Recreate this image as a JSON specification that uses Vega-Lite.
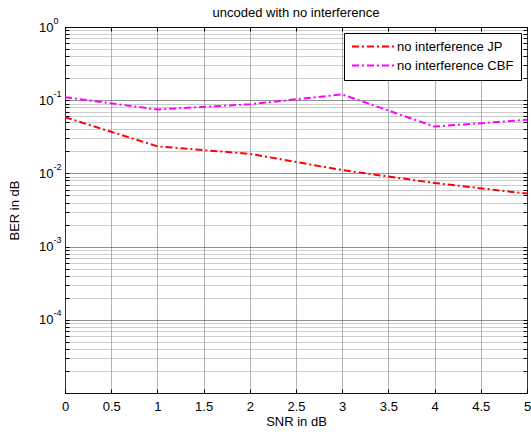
{
  "$schema": "https://vega.github.io/schema/vega-lite/v6.json",
  "width": 462,
  "height": 366,
  "autosize": {"type": "none"},
  "padding": {"left": 65, "top": 27, "right": 4, "bottom": 39},
  "background": "#ffffff",
  "title": {"text": "uncoded with no interference", "fontSize": 13, "fontWeight": "normal", "font": "Liberation Sans", "color": "#000000", "offset": -4},
  "config": {"view": {"stroke": "#000000", "strokeWidth": 1}, "font": "Liberation Sans"},
  "data": {"values": [
    {"snr": 0, "ber": 0.0585, "series": "no interference JP"},
    {"snr": 1, "ber": 0.0234, "series": "no interference JP"},
    {"snr": 2, "ber": 0.0185, "series": "no interference JP"},
    {"snr": 3, "ber": 0.0111, "series": "no interference JP"},
    {"snr": 4, "ber": 0.0074, "series": "no interference JP"},
    {"snr": 5, "ber": 0.0053, "series": "no interference JP"},
    {"snr": 0, "ber": 0.110, "series": "no interference CBF"},
    {"snr": 1, "ber": 0.0746, "series": "no interference CBF"},
    {"snr": 2, "ber": 0.088, "series": "no interference CBF"},
    {"snr": 3, "ber": 0.120, "series": "no interference CBF"},
    {"snr": 4, "ber": 0.0436, "series": "no interference CBF"},
    {"snr": 5, "ber": 0.054, "series": "no interference CBF"}
  ]},
  "resolve": {"axis": {"x": "independent", "y": "independent"}},
  "layer": [
    {
      "mark": {"type": "line", "strokeDash": [7, 3, 2, 3], "strokeWidth": 2, "clip": true},
      "encoding": {
        "x": {
          "field": "snr", "type": "quantitative",
          "scale": {"domain": [0, 5], "nice": false, "zero": false},
          "axis": {
            "orient": "bottom",
            "title": "SNR in dB", "values": [0, 0.5, 1, 1.5, 2, 2.5, 3, 3.5, 4, 4.5, 5],
            "labelExpr": "'' + datum.value",
            "grid": true, "gridColor": "#666666", "gridDash": [1, 1], "gridWidth": 1,
            "ticks": true, "tickSize": -4, "tickColor": "#000000", "domain": false, "labelFlush": false,
            "labelFontSize": 13, "labelColor": "#000000", "labelPadding": 11,
            "titleFontSize": 13, "titleFontWeight": "normal", "titleColor": "#000000", "titlePadding": 2
          }
        },
        "y": {
          "field": "ber", "type": "quantitative",
          "scale": {"type": "log", "domain": [0.00001, 1], "nice": false},
          "axis": {
            "orient": "left",
            "title": "BER in dB",
            "values": [0.00001, 0.00002, 0.00003, 0.00004, 0.00005, 0.00006, 0.00007, 0.00008, 0.00009,
                       0.0001, 0.0002, 0.0003, 0.0004, 0.0005, 0.0006, 0.0007, 0.0008, 0.0009,
                       0.001, 0.002, 0.003, 0.004, 0.005, 0.006, 0.007, 0.008, 0.009,
                       0.01, 0.02, 0.03, 0.04, 0.05, 0.06, 0.07, 0.08, 0.09,
                       0.1, 0.2, 0.3, 0.4, 0.5, 0.6, 0.7, 0.8, 0.9, 1],
            "labelExpr": "(abs(log(datum.value)/LN10 - round(log(datum.value)/LN10)) < 0.001 && datum.value > 0.00005) ? '10' : ''",
            "grid": true,
            "gridColor": {"condition": {"test": "abs(log(datum.value)/LN10 - round(log(datum.value)/LN10)) < 0.001", "value": "#222222"}, "value": "#999999"},
            "gridDash": [1, 1], "gridWidth": 1,
            "ticks": true, "tickSize": -4, "tickColor": "#000000", "domain": false, "labelOverlap": false,
            "labelFontSize": 13, "labelColor": "#000000", "labelPadding": 16, "labelBaseline": "middle",
            "titleFontSize": 13, "titleFontWeight": "normal", "titleColor": "#000000", "titlePadding": 17
          }
        },
        "color": {
          "field": "series", "type": "nominal",
          "scale": {"domain": ["no interference JP", "no interference CBF"], "range": ["#ff0000", "#ff00ff"]},
          "legend": {
            "title": null, "orient": "top-right", "offset": 6,
            "strokeColor": "#000000", "fillColor": "#ffffff", "padding": 7,
            "symbolType": "M-1,0H7", "symbolDash": [7, 3, 2, 3], "symbolStrokeWidth": 2, "symbolSize": 121,
            "labelOffset": 33,
            "labelFontSize": 13, "labelColor": "#000000", "labelLimit": 300, "rowPadding": 5
          }
        }
      }
    },
    {
      "mark": {"type": "line", "opacity": 0},
      "encoding": {
        "x": {
          "field": "snr", "type": "quantitative",
          "axis": {
            "orient": "top", "title": null, "values": [0, 0.5, 1, 1.5, 2, 2.5, 3, 3.5, 4, 4.5, 5],
            "labels": false, "grid": false, "domain": false, "minExtent": 0, "maxExtent": 0,
            "ticks": true, "tickSize": -4, "tickColor": "#000000"
          }
        },
        "y": {
          "field": "ber", "type": "quantitative",
          "axis": {
            "orient": "left", "title": null,
            "values": [0.0001, 0.001, 0.01, 0.1, 1],
            "labelExpr": "round(log(datum.value)/LN10) == 0 ? '0' : '' + round(log(datum.value)/LN10)",
            "grid": false, "ticks": false, "domain": false, "labelOverlap": false,
            "labelAlign": "left", "labelPadding": 12, "labelOffset": -7, "labelBaseline": "middle",
            "labelFontSize": 9, "labelColor": "#000000"
          }
        }
      }
    },
    {
      "mark": {"type": "line", "opacity": 0},
      "encoding": {
        "x": {"field": "snr", "type": "quantitative", "axis": null},
        "y": {
          "field": "ber", "type": "quantitative",
          "axis": {
            "orient": "right", "title": null,
            "values": [0.00001, 0.00002, 0.00003, 0.00004, 0.00005, 0.00006, 0.00007, 0.00008, 0.00009,
                       0.0001, 0.0002, 0.0003, 0.0004, 0.0005, 0.0006, 0.0007, 0.0008, 0.0009,
                       0.001, 0.002, 0.003, 0.004, 0.005, 0.006, 0.007, 0.008, 0.009,
                       0.01, 0.02, 0.03, 0.04, 0.05, 0.06, 0.07, 0.08, 0.09,
                       0.1, 0.2, 0.3, 0.4, 0.5, 0.6, 0.7, 0.8, 0.9, 1],
            "labels": false, "grid": false, "domain": false,
            "ticks": true, "tickSize": -4, "tickColor": "#000000"
          }
        }
      }
    }
  ]
}
